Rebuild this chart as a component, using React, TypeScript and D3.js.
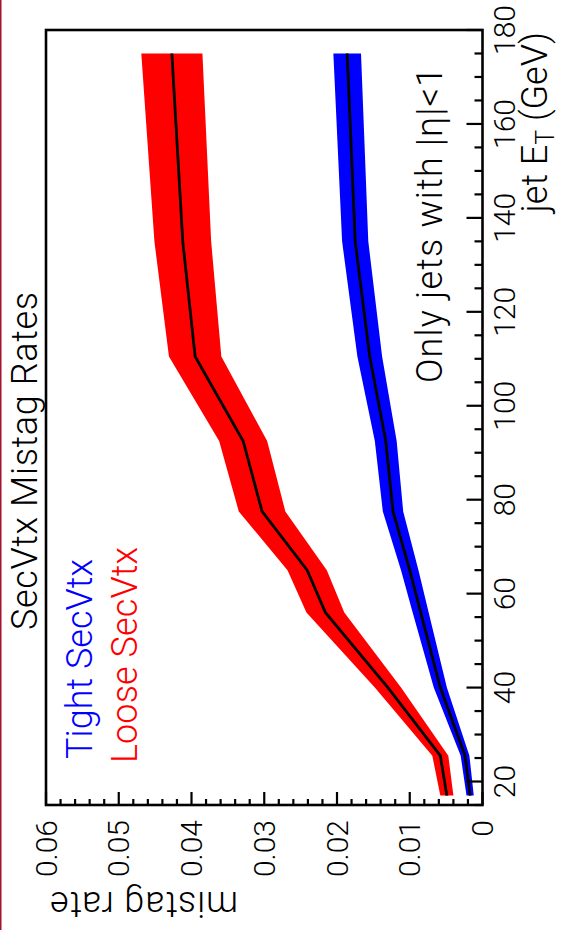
import React from 'react';
import * as d3 from 'd3';

const etPoints = [17, 25.5, 40, 56, 65, 77.5, 92.5, 110.5, 135, 175];
const looseRate = [0.0049, 0.0058, 0.013, 0.0216, 0.0241, 0.0303, 0.0329, 0.0395, 0.0412, 0.0427];
const looseErr = [0.0009, 0.0011, 0.0018, 0.0026, 0.0027, 0.0032, 0.0033, 0.0036, 0.0039, 0.0042];
const tightRate = [0.0017, 0.0024, 0.0058, 0.0085, 0.01, 0.0123, 0.0133, 0.0155, 0.0175, 0.0186];
const tightErr = [0.0005, 0.0006, 0.0009, 0.0011, 0.0012, 0.0014, 0.0015, 0.0017, 0.0018, 0.0019];
const etTicks = [20, 40, 60, 80, 100, 120, 140, 160, 180];
const rateTicks = [0, 0.01, 0.02, 0.03, 0.04, 0.05, 0.06];
const rateTickLabels = ['0', '0.01', '0.02', '0.03', '0.04', '0.05', '0.06'];

const FONT = 'Roboto, "Liberation Sans", Arial, sans-serif';
const FW = 300;

export default function App() {
  const W = 930;
  const x = d3.scaleLinear().domain([15, 180]).range([125, 900]);
  const y = d3.scaleLinear().domain([0, 0.06]).range([482.5, 46]);

  const idx = d3.range(etPoints.length);
  const area = (rate: number[], err: number[]) =>
    d3
      .area<number>()
      .x((i) => x(etPoints[i]))
      .y0((i) => y(rate[i] - err[i]))
      .y1((i) => y(rate[i] + err[i]))(idx) as string;
  const line = (rate: number[]) =>
    d3
      .line<number>()
      .x((i) => x(etPoints[i]))
      .y((i) => y(rate[i]))(idx) as string;

  const etMinor = d3.range(15, 181, 5).filter((v) => v % 20 !== 0);
  const rateMinor = d3.range(0, 0.0601, 0.002).filter((v) => Math.abs(v * 100 - Math.round(v * 100)) > 1e-6);

  const x0 = x.range()[0];
  const x1 = x.range()[1];
  const yb = y(0);
  const yt = y(0.06);

  return (
    <svg
      width={562}
      height={930}
      style={{ position: 'absolute', left: 0, top: 0, background: '#fff' }}
      fontFamily={FONT}
      fontWeight={FW}
    >
      <rect x={0} y={0} width={562} height={930} fill="#fff" />
      <rect x={0} y={0} width={1.5} height={930} fill="#a4122e" />
      <g transform={`translate(0,${W}) rotate(-90)`}>
        <path d={area(looseRate, looseErr)} fill="#ff0000" />
        <path d={area(tightRate, tightErr)} fill="#0000ff" />
        <path d={line(looseRate)} fill="none" stroke="#000" strokeWidth={2.8} />
        <path d={line(tightRate)} fill="none" stroke="#000" strokeWidth={2.8} />

        <rect x={x0} y={yt} width={x1 - x0} height={yb - yt} fill="none" stroke="#000" strokeWidth={2.6} />

        {etTicks.map((t) => (
          <line key={'etM' + t} x1={x(t)} x2={x(t)} y1={yb} y2={yb - 16} stroke="#000" strokeWidth={2.2} />
        ))}
        {etMinor.map((t) => (
          <line key={'etm' + t} x1={x(t)} x2={x(t)} y1={yb} y2={yb - 8} stroke="#000" strokeWidth={2.2} />
        ))}
        {rateTicks.map((t) => (
          <line key={'rM' + t} x1={x0} x2={x0 + 13} y1={y(t)} y2={y(t)} stroke="#000" strokeWidth={2.2} />
        ))}
        {rateMinor.map((t) => (
          <line key={'rm' + t} x1={x0} x2={x0 + 6} y1={y(t)} y2={y(t)} stroke="#000" strokeWidth={2.2} />
        ))}

        {etTicks.map((t) => (
          <text key={'etl' + t} x={x(t)} y={515} fontSize={30} textAnchor="middle" fill="#000">
            {t}
          </text>
        ))}
        {rateTicks.map((t, i) => (
          <text key={'rl' + t} x={110} y={y(t) + 10.5} fontSize={30} textAnchor="end" fill="#000">
            {rateTickLabels[i]}
          </text>
        ))}

        <text x={898} y={547} fontSize={36} textAnchor="end" fill="#000">
          jet E
          <tspan fontSize={25} dy={7}>T</tspan>
          <tspan dy={-7}> (GeV)</tspan>
        </text>
        <text transform="translate(38,50) rotate(-90)" fontSize={36} textAnchor="end" fill="#000" textLength={188} lengthAdjust="spacing">
          mistag rate
        </text>

        <text x={300} y={37} fontSize={36} fill="#000" textLength={338} lengthAdjust="spacing">
          SecVtx Mistag Rates
        </text>
        <text x={171} y={92} fontSize={36} fill="#0000ff" textLength={200} lengthAdjust="spacing">
          Tight SecVtx
        </text>
        <text x={167} y={137} fontSize={36} fill="#ff0000" textLength={216} lengthAdjust="spacing">
          Loose SecVtx
        </text>
        <text x={547} y={442} fontSize={36} fill="#000" textLength={316} lengthAdjust="spacing">
          Only jets with |η|&lt;1
        </text>
      </g>
    </svg>
  );
}
